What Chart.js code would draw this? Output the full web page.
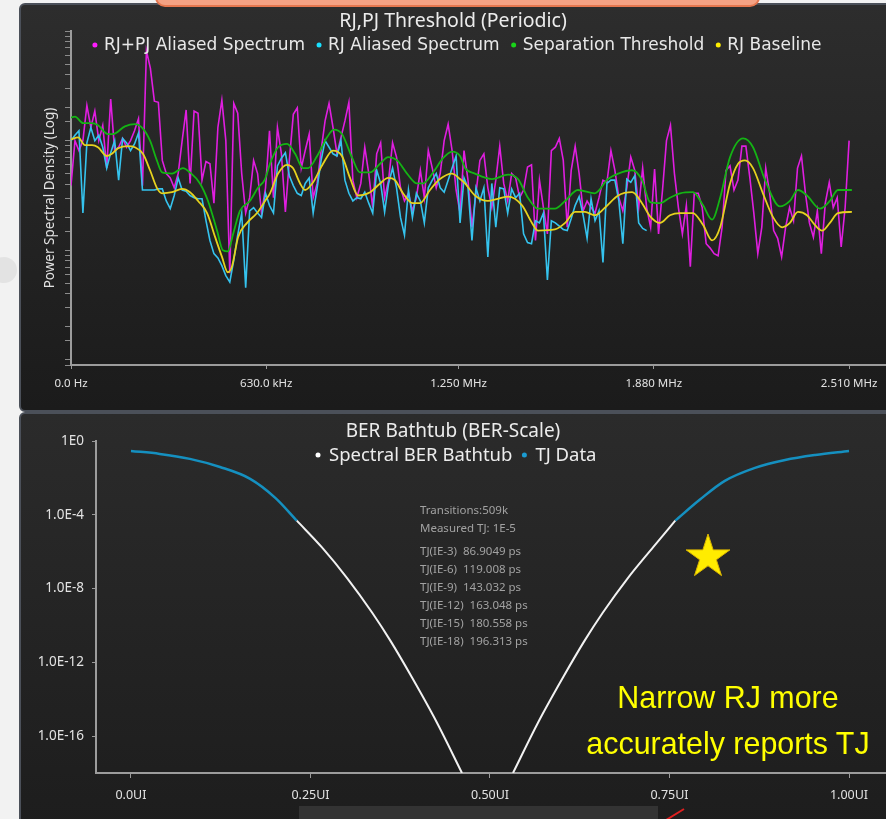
<!DOCTYPE html>
<html>
<head>
<meta charset="utf-8">
<script src="https://cdn.jsdelivr.net/npm/chart.js@4.4.1/dist/chart.umd.min.js"></script>
<style>
    html, body { margin: 0; padding: 0; }
    body { width: 886px; height: 819px; overflow: hidden; position: relative; background: #f2f2f2; font-family: 'Noto Sans', sans-serif; }
    .panel { position: absolute; left: 19px; width: 880px; border: 2px solid #4b5059; border-radius: 6px; box-sizing: border-box; }
    #panelTop { top: 3px; height: 409px; background: linear-gradient(#2d2d2d, #1b1b1b); }
    #panelBottom { top: 412px; height: 420px; background: linear-gradient(#2b2b2b, #1d1d1d); }
    canvas { position: absolute; }
    #spectrum { left: 20px; top: 5px; }
    #bathtub { left: 20px; top: 413px; }
    #orange { position: absolute; left: 155px; top: -5px; width: 605px; height: 12px; background: #f4a284; border: 2px solid #e5774f; border-radius: 0 0 10px 10px; box-sizing: border-box; }
    #blob { position: absolute; left: -9px; top: 257px; width: 26px; height: 26px; border-radius: 50%; background: #e3e3e3; }
    .stat { position: absolute; left: 420px; font-size: 11.5px; line-height: 14px; color: #a2a2a2; white-space: pre; }
    #star { position: absolute; left: 683px; top: 533px; }
    #note { position: absolute; left: 568px; top: 674px; width: 320px; text-align: center; font-family: 'Liberation Sans', sans-serif; font-size: 32px; line-height: 46px; color: #ffff00; transform: scaleX(0.95); }
    #grayBox { position: absolute; left: 299px; top: 806px; width: 359px; height: 20px; background: #333333; }
    #arrow { position: absolute; left: 660px; top: 804px; }
</style>
</head>
<body>
<div class="panel" id="panelTop"></div>
<div class="panel" id="panelBottom"></div>
<div id="orange"></div>
<div id="blob"></div>
<canvas id="spectrum" width="866" height="405"></canvas>
<canvas id="bathtub" width="866" height="406"></canvas>

<div class="stat" style="top:503px">Transitions:509k</div>
<div class="stat" style="top:521px">Measured TJ: 1E-5</div>
<div class="stat" style="top:544px">TJ(IE-3)  86.9049 ps</div>
<div class="stat" style="top:562px">TJ(IE-6)  119.008 ps</div>
<div class="stat" style="top:580px">TJ(IE-9)  143.032 ps</div>
<div class="stat" style="top:598px">TJ(IE-12)  163.048 ps</div>
<div class="stat" style="top:616px">TJ(IE-15)  180.558 ps</div>
<div class="stat" style="top:634px">TJ(IE-18)  196.313 ps</div>

<svg id="star" width="50" height="46" viewBox="-25 -24 50 46">
    <polygon points="0,-23 5.17,-7.12 21.87,-7.11 8.37,2.72 13.52,18.61 0,8.8 -13.52,18.61 -8.37,2.72 -21.87,-7.11 -5.17,-7.12" fill="#ffec00" stroke="#d9b400" stroke-width="1"/>
</svg>
<div id="note">Narrow RJ more<br>accurately reports TJ</div>
<div id="grayBox"></div>
<svg id="arrow" width="30" height="16"><line x1="6" y1="16" x2="24" y2="5" stroke="#e02020" stroke-width="2"/></svg>

<script>
Chart.defaults.font.family = "'Noto Sans', sans-serif";

// *** RJ,PJ Threshold (Periodic) ***
// spectrum bins (PSD in dB), one value per FFT bin from 0 to 2.51 MHz
var binMHz = 2.51 / 196;

var rjpjDb = [
    -74.1, -70.0, -70.9, -70.0, -66.8, -68.8, -67.3, -70.0, -68.6, -72.5,
    -66.2, -70.9, -70.6, -69.8, -70.6, -70.0, -69.1, -68.0, -74.1, -61.8,
    -63.4, -66.4, -66.5, -71.8, -73.0, -73.4, -74.3, -73.0, -70.0, -67.2,
    -73.9, -67.3, -67.5, -73.6, -71.9, -72.1, -75.7, -68.8, -66.3, -70.0,
    -82.1, -66.6, -67.5, -73.0, -76.6, -75.2, -71.8, -73.0, -76.6, -74.3,
    -69.1, -75.2, -68.8, -71.2, -76.5, -71.8, -67.6, -67.0, -72.5, -70.9,
    -69.4, -75.2, -73.9, -70.9, -68.2, -66.6, -68.8, -71.2, -69.7, -68.2,
    -66.5, -73.6, -75.2, -73.9, -70.6, -73.0, -76.1, -71.2, -70.2, -75.2,
    -73.6, -70.2, -71.5, -74.3, -75.5, -74.8, -76.4, -75.2, -72.7, -75.2,
    -70.9, -72.5, -74.3, -73.0, -70.0, -68.5, -70.9, -74.5, -76.6, -70.9,
    -73.6, -77.9, -74.8, -71.8, -71.2, -74.3, -76.1, -73.6, -70.5, -73.9,
    -75.5, -73.0, -73.4, -75.2, -74.5, -72.4, -72.2, -79.1, -73.6, -76.1,
    -78.5, -70.9, -70.6, -69.8, -71.8, -77.9, -72.7, -70.5, -73.0, -76.4,
    -75.5, -76.1, -76.6, -75.2, -73.6, -73.8, -70.9, -72.7, -75.2, -76.4,
    -74.3, -71.5, -72.7, -76.1, -72.5, -76.1, -77.9, -72.6, -78.5, -74.5,
    -70.0, -68.6, -73.0, -76.1, -78.5, -75.9, -81.5, -74.8, -74.8, -76.1,
    -79.4, -79.8, -80.3, -80.5, -77.9, -72.7, -72.3, -74.5, -73.6, -70.5,
    -70.5, -73.4, -76.6, -80.3, -77.9, -72.5, -74.8, -78.2, -78.9, -80.6,
    -77.9, -76.1, -77.3, -72.5, -71.4, -74.8, -77.5, -78.8, -76.4, -80.3,
    -75.7, -73.8, -76.1, -75.2, -79.7, -76.1, -70.0
];

var rjDb = [
    -70.0, -69.5, -69.1, -76.6, -70.2, -68.8, -70.0, -69.5, -70.6, -72.5,
    -71.1, -70.0, -73.6, -69.8, -70.2, -70.9, -70.3, -69.3, -74.5, -74.5,
    -74.5, -74.5, -74.4, -74.4, -75.5, -76.2, -75.0, -73.4, -74.5, -74.6,
    -75.0, -75.2, -75.3, -75.3, -77.3, -79.1, -80.3, -80.7, -81.4, -82.3,
    -82.9, -80.9, -78.6, -76.6, -83.4, -76.4, -76.1, -76.6, -77.0, -74.8,
    -75.9, -76.6, -72.3, -71.6, -71.1, -73.2, -74.1, -74.8, -75.0, -73.9,
    -73.4, -76.6, -74.3, -71.8, -70.0, -70.6, -71.2, -71.4, -70.0, -73.6,
    -74.8, -75.5, -75.2, -75.3, -74.7, -75.7, -76.6, -72.7, -73.9, -76.5,
    -73.9, -72.5, -74.3, -77.0, -78.6, -74.5, -77.0, -74.8, -75.5, -77.5,
    -74.3, -73.6, -73.0, -74.3, -74.7, -73.6, -72.5, -71.4, -77.5, -73.4,
    -74.3, -79.1, -74.3, -75.5, -74.3, -80.6, -73.9, -77.9, -74.3, -74.4,
    -76.6, -74.4, -75.2, -74.8, -78.5, -79.3, -79.4, -77.3, -77.5, -76.6,
    -82.7, -77.3, -77.5, -77.8, -78.1, -78.2, -77.1, -75.9, -75.1, -76.8,
    -78.9, -75.3, -77.3, -76.4, -81.1, -73.9, -73.6, -73.6, -75.5, -79.4,
    -73.5, -73.8, -73.2, -77.5, -78.0, -78.2
];

// smooth curves: frequency (MHz) and level (dB)
var thresholdMHz = [
    0.000, 0.013, 0.039, 0.068, 0.087, 0.119, 0.135, 0.174, 0.206, 0.232,
    0.255, 0.277, 0.294, 0.326, 0.361, 0.384, 0.416, 0.442, 0.471, 0.490,
    0.506, 0.523, 0.545, 0.577, 0.603, 0.626, 0.642, 0.668, 0.697, 0.723,
    0.748, 0.765, 0.794, 0.826, 0.848, 0.874, 0.906, 0.932, 0.965, 0.997,
    1.023, 1.052, 1.084, 1.116, 1.135, 1.168, 1.200, 1.229, 1.255, 1.271,
    1.303, 1.358, 1.410, 1.442, 1.474, 1.506, 1.561, 1.594, 1.635, 1.690,
    1.732, 1.765, 1.810, 1.842, 1.868, 1.900, 1.932, 1.965, 2.006, 2.039,
    2.068, 2.094, 2.126, 2.168, 2.200, 2.239, 2.287, 2.319, 2.345, 2.374,
    2.416, 2.448, 2.474, 2.519
];
var thresholdDb = [
    -67.9, -67.8, -68.4, -68.4, -68.6, -69.4, -69.4, -68.7, -68.5, -68.9,
    -70.0, -71.8, -72.9, -73.0, -72.5, -72.9, -73.9, -75.5, -78.2, -80.0,
    -80.1, -78.5, -76.4, -75.5, -74.3, -73.5, -72.1, -70.6, -70.3, -71.2,
    -72.5, -72.5, -71.4, -69.7, -69.0, -69.4, -71.5, -72.9, -72.9, -72.1,
    -71.5, -71.8, -73.0, -73.9, -73.9, -72.9, -71.6, -71.0, -71.4, -72.5,
    -73.0, -73.5, -73.1, -73.5, -75.2, -76.2, -76.2, -75.5, -74.5, -74.8,
    -73.5, -73.0, -72.7, -73.6, -75.6, -75.7, -75.2, -74.8, -74.7, -75.9,
    -77.2, -75.2, -71.5, -69.8, -70.6, -73.6, -76.0, -75.5, -74.5, -75.0,
    -76.2, -75.5, -74.5, -74.5
];

var baselineMHz = [
    0.000, 0.023, 0.045, 0.068, 0.087, 0.116, 0.132, 0.152, 0.184, 0.206,
    0.232, 0.255, 0.277, 0.294, 0.326, 0.358, 0.384, 0.410, 0.439, 0.465,
    0.487, 0.506, 0.519, 0.539, 0.568, 0.600, 0.626, 0.642, 0.668, 0.697,
    0.716, 0.739, 0.755, 0.781, 0.813, 0.845, 0.874, 0.900, 0.926, 0.965,
    0.997, 1.023, 1.045, 1.071, 1.103, 1.126, 1.158, 1.190, 1.229, 1.255,
    1.271, 1.303, 1.345, 1.377, 1.410, 1.455, 1.487, 1.506, 1.561, 1.594,
    1.626, 1.658, 1.690, 1.723, 1.765, 1.810, 1.842, 1.868, 1.900, 1.932,
    1.965, 2.006, 2.039, 2.068, 2.094, 2.126, 2.152, 2.174, 2.200, 2.232,
    2.265, 2.294, 2.319, 2.345, 2.374, 2.400, 2.423, 2.448, 2.474, 2.519
];
var baselineDb = [
    -69.9, -69.7, -70.4, -70.4, -70.6, -71.4, -71.2, -70.7, -70.5, -70.6,
    -71.2, -72.7, -74.3, -74.8, -74.7, -74.4, -74.7, -75.5, -76.6, -78.8,
    -80.6, -82.0, -81.5, -78.8, -77.5, -76.6, -75.5, -74.8, -73.0, -72.2,
    -72.5, -73.9, -74.5, -73.8, -72.1, -70.9, -71.4, -73.4, -75.0, -74.7,
    -73.9, -73.4, -73.6, -74.8, -75.7, -75.7, -74.5, -73.5, -73.0, -73.5,
    -73.9, -75.0, -75.5, -75.3, -75.1, -75.9, -77.5, -78.2, -78.1, -77.5,
    -76.5, -76.5, -76.8, -76.1, -75.0, -74.7, -75.7, -76.9, -77.5, -76.8,
    -76.6, -76.6, -77.7, -79.1, -77.9, -73.9, -72.1, -71.8, -72.5, -74.8,
    -77.0, -77.9, -77.5, -76.5, -76.8, -77.7, -78.2, -77.5, -76.6, -76.5
];

var freqTicks = [0, 0.63, 1.25, 1.88, 2.51];
var freqLabels = ['0.0 Hz', '630.0 kHz', '1.250 MHz', '1.880 MHz', '2.510 MHz'];

// *** BER Bathtub (BER-Scale) ***
var tjLeftUI = [0, 0.040, 0.082, 0.124, 0.166, 0.201, 0.231];
var tjLeftBer = [2.9e-1, 2.0e-1, 1.07e-1, 3.9e-2, 8.9e-3, 8.3e-4, 4.8e-5];
var tubLeftUI = [0.231, 0.266, 0.301, 0.336, 0.361, 0.391, 0.426, 0.461];
var tubLeftBer = [4.8e-5, 1.7e-6, 3.7e-8, 4.9e-10, 1.55e-11, 1.6e-13, 5.5e-16, 1.0e-18];
var tubRightUI = [0.532, 0.567, 0.602, 0.632, 0.657, 0.692, 0.727, 0.758];
var tubRightBer = [1.0e-18, 5.5e-16, 1.6e-13, 1.55e-11, 4.9e-10, 3.7e-8, 1.7e-6, 4.8e-5];
var tjRightUI = [0.758, 0.792, 0.827, 0.869, 0.911, 0.953, 1.0];
var tjRightBer = [4.8e-5, 6.5e-4, 6.9e-3, 3.5e-2, 9.3e-2, 1.74e-1, 2.9e-1];

var uiTicks = [0, 0.25, 0.5, 0.75, 1];
var uiLabels = ['0.0UI', '0.25UI', '0.50UI', '0.75UI', '1.00UI'];
var berTicks = [1, 1e-4, 1e-8, 1e-12, 1e-16];
var berLabels = ['1E0', '1.0E-4', '1.0E-8', '1.0E-12', '1.0E-16'];

// helpers
function dbToPsd(db) { return Math.pow(10, db / 10); }

function binPoints(dbs) {
    return dbs.map(function (db, i) { return { x: i * binMHz, y: dbToPsd(db) }; });
}

function curvePoints(xs, dbs) {
    return xs.map(function (x, i) { return { x: x, y: dbToPsd(dbs[i]) }; });
}

// left and right branch of a bathtub, with a gap in the middle
function branches(xa, ya, xb, yb) {
    var pts = xa.map(function (x, i) { return { x: x, y: ya[i] }; });
    pts.push({ x: 0.5, y: null });
    return pts.concat(xb.map(function (x, i) { return { x: x, y: yb[i] }; }));
}

// legend drawn over the top of the plot area, like the original tool does
function overlayLegend(cfg) {
    return {
        id: 'overlayLegend',
        afterDraw: function (chart) {
            var ctx = chart.ctx;
            var items = chart.data.datasets.map(function (ds) { return { text: ds.label, color: ds.legendColor }; });
            ctx.save();
            ctx.font = cfg.font;
            ctx.textBaseline = 'middle';
            var widths = items.map(function (it) { return ctx.measureText(it.text).width; });
            var total = cfg.gap * (items.length - 1);
            widths.forEach(function (w) { total += cfg.dotGap + w; });
            var x = cfg.centerX - total / 2;
            items.forEach(function (it, i) {
                ctx.fillStyle = it.color;
                ctx.beginPath();
                ctx.arc(x + cfg.radius, cfg.y, cfg.radius, 0, Math.PI * 2);
                ctx.fill();
                ctx.fillStyle = cfg.color;
                ctx.fillText(it.text, x + cfg.dotGap, cfg.y + 1);
                x += cfg.dotGap + widths[i] + cfg.gap;
            });
            ctx.restore();
        }
    };
}

var tickFont = { family: "'Noto Sans', sans-serif", size: 11.5 };

// *** spectrum chart ***
var ctx1 = document.getElementById('spectrum').getContext('2d');
var spectrumChart = new Chart(ctx1, {
    type: 'line',
    data: {
        datasets: [
            {
                label: 'RJ+PJ Aliased Spectrum',
                data: binPoints(rjpjDb),
                borderColor: '#e01ee0',
                legendColor: '#ff1cff',
                borderWidth: 1.6,
                order: 4
            },
            {
                label: 'RJ Aliased Spectrum',
                data: binPoints(rjDb),
                borderColor: '#35c3ee',
                legendColor: '#19e0ff',
                borderWidth: 1.6,
                order: 3
            },
            {
                label: 'Separation Threshold',
                data: curvePoints(thresholdMHz, thresholdDb),
                borderColor: '#14b414',
                legendColor: '#19d419',
                borderWidth: 1.8,
                cubicInterpolationMode: 'monotone',
                order: 2
            },
            {
                label: 'RJ Baseline',
                data: curvePoints(baselineMHz, baselineDb),
                borderColor: '#e6d21e',
                legendColor: '#ffee00',
                borderWidth: 1.8,
                cubicInterpolationMode: 'monotone',
                order: 1
            }
        ]
    },
    options: {
        responsive: false,
        animation: false,
        events: [],
        layout: { padding: 0 },
        elements: { point: { radius: 0 }, line: { tension: 0 } },
        plugins: {
            legend: { display: false },
            tooltip: { enabled: false },
            title: {
                display: true,
                text: 'RJ,PJ Threshold (Periodic)',
                color: '#ececec',
                font: { size: 19.5, weight: 'normal', lineHeight: 1 },
                padding: { top: 6.5, bottom: 0 }
            }
        },
        scales: {
            x: {
                type: 'linear',
                min: 0,
                max: 2.629,
                afterBuildTicks: function (scale) { scale.ticks = freqTicks.map(function (v) { return { value: v }; }); },
                afterFit: function (scale) { scale.height = 45; },
                ticks: {
                    autoSkip: false,
                    maxRotation: 0,
                    color: '#e2e2e2',
                    font: tickFont,
                    padding: 8,
                    callback: function (v, i) { return freqLabels[i]; }
                },
                grid: { drawOnChartArea: false, tickLength: 4, tickColor: '#9a9a9a' },
                border: { color: '#9c9c9c', width: 2 }
            },
            y: {
                type: 'logarithmic',
                min: 9.0e-10,
                max: 1e-6,
                afterFit: function (scale) { scale.width = 51; },
                ticks: { display: false },
                grid: { drawOnChartArea: false, tickLength: 6, tickColor: '#8c8c8c' },
                border: { color: '#9c9c9c', width: 2 },
                title: {
                    display: true,
                    text: 'Power Spectral Density (Log)',
                    color: '#e2e2e2',
                    font: { size: 13.5 },
                    padding: { top: 22, bottom: 0 }
                }
            }
        }
    },
    plugins: [overlayLegend({ font: "17px 'DejaVu Sans'", y: 40, centerX: 437, radius: 2.5, dotGap: 11.5, gap: 11.5, color: '#e8e8e8' })]
});

// *** bathtub chart ***
var ctx2 = document.getElementById('bathtub').getContext('2d');
var bathtubChart = new Chart(ctx2, {
    type: 'line',
    data: {
        datasets: [
            {
                label: 'Spectral BER Bathtub',
                data: branches(tubLeftUI, tubLeftBer, tubRightUI, tubRightBer),
                borderColor: '#f2f2f2',
                legendColor: '#ffffff',
                borderWidth: 2,
                cubicInterpolationMode: 'monotone'
            },
            {
                label: 'TJ Data',
                data: branches(tjLeftUI, tjLeftBer, tjRightUI, tjRightBer),
                borderColor: '#1590c0',
                legendColor: '#1b9bd1',
                borderWidth: 2.5,
                cubicInterpolationMode: 'monotone'
            }
        ]
    },
    options: {
        responsive: false,
        animation: false,
        events: [],
        layout: { padding: 0 },
        elements: { point: { radius: 0 } },
        plugins: {
            legend: { display: false },
            tooltip: { enabled: false },
            title: {
                display: true,
                text: 'BER Bathtub (BER-Scale)',
                color: '#ececec',
                font: { size: 19, weight: 'normal', lineHeight: 1 },
                padding: { top: 9, bottom: 0 }
            }
        },
        scales: {
            x: {
                type: 'linear',
                min: -0.0487,
                max: 1.0515,
                afterBuildTicks: function (scale) { scale.ticks = uiTicks.map(function (v) { return { value: v }; }); },
                afterFit: function (scale) { scale.height = 46; },
                ticks: {
                    autoSkip: false,
                    maxRotation: 0,
                    color: '#e2e2e2',
                    font: { size: 12.5 },
                    padding: 10,
                    callback: function (v, i) { return uiLabels[i]; }
                },
                grid: { drawOnChartArea: false, tickLength: 5, tickColor: '#9a9a9a' },
                border: { color: '#9c9c9c', width: 2 }
            },
            y: {
                type: 'logarithmic',
                min: 1e-18,
                max: 1,
                afterBuildTicks: function (scale) { scale.ticks = berTicks.map(function (v) { return { value: v }; }); },
                afterFit: function (scale) { scale.width = 76; },
                ticks: {
                    autoSkip: false,
                    color: '#e2e2e2',
                    font: { size: 13.5 },
                    padding: 8,
                    callback: function (v, i) { return berLabels[i]; }
                },
                grid: { drawOnChartArea: false, tickLength: 4, tickColor: '#9a9a9a' },
                border: { color: '#9c9c9c', width: 2 }
            }
        }
    },
    plugins: [overlayLegend({ font: "18.5px 'Noto Sans'", y: 42, centerX: 436, radius: 2.5, dotGap: 13.5, gap: 9.5, color: '#ececec' })]
});
</script>
</body>
</html>
